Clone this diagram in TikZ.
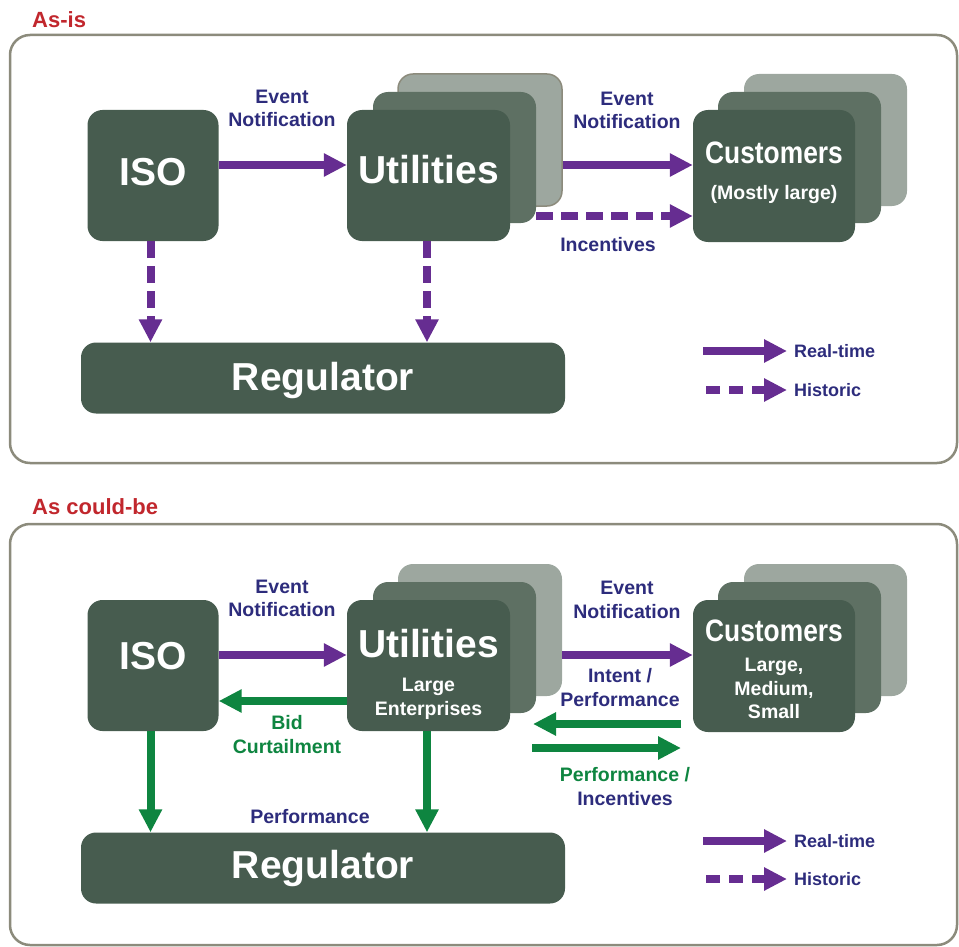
\documentclass[tikz,border=0pt]{standalone}
\usepackage{fontspec}
\setmainfont{Liberation Sans}
\newfontfamily\narrowsans{Liberation Sans}[FakeStretch=0.85]
\usetikzlibrary{arrows.meta}

\definecolor{boxfront}{HTML}{475C4F}
\definecolor{boxmid}{HTML}{5E7063}
\definecolor{boxback}{HTML}{9DA79F}
\definecolor{framegray}{HTML}{8C8B7C}
\definecolor{navy}{HTML}{2D2C7C}
\definecolor{arrowpurple}{HTML}{662D91}
\definecolor{arrowgreen}{HTML}{0E8540}
\definecolor{titlered}{HTML}{C1272D}

\newcommand\bigfont{\bfseries\fontsize{39}{44}\selectfont}
\newcommand\custfont{\narrowsans\bfseries\fontsize{31}{34}\selectfont}
\newcommand\smallfont{\bfseries\fontsize{19.5}{23.5}\selectfont}

\tikzset{
  panel/.style={draw=framegray, line width=2.5pt, rounded corners=20pt},
  paneltitle/.style={text=titlered, anchor=west, inner sep=0pt,
    font=\bfseries\fontsize{22}{26}\selectfont},
  box/.style={rectangle, rounded corners=15pt, fill=boxfront, text=white,
    inner sep=0pt, align=center},
  midbox/.style={box, fill=boxmid},
  backbox/.style={box, fill=boxback},
  bigtext/.style={font=\bigfont},
  multitext/.style={font=\smallfont},
  lbl/.style={text=navy, align=center, inner sep=0pt, font=\smallfont},
  glbl/.style={lbl, text=arrowgreen},
  legendlbl/.style={text=navy, anchor=west, inner sep=0pt,
    font=\bfseries\fontsize{18}{22}\selectfont},
  rt/.style={draw=arrowpurple, line width=8pt,
    -{Triangle[length=23pt,width=22pt]}},
  hist/.style={rt, dash pattern=on 17pt off 8pt},
  grn/.style={draw=arrowgreen, line width=8pt,
    -{Triangle[length=23pt,width=22pt]}},
}

\begin{document}
\begin{tikzpicture}[x=1pt,y=-1pt]
\useasboundingbox (0,0) rectangle (959,947);

% ---------------- As-is ----------------
\draw[panel] (10,35) rectangle (957,463);
\node[paneltitle] (t1) at (32,20) {As-is};

\node[box, bigtext, text depth=7pt, minimum width=131pt, minimum height=131pt] (iso1) at (153,175.5) {ISO};

\node[backbox, draw=framegray, line width=1.5pt, minimum width=164pt, minimum height=132pt] (utilb1) at (480,140) {};
\node[midbox, minimum width=163pt, minimum height=131pt] (utilm1) at (454.5,157.5) {};
\node[box, bigtext, text depth=12pt, minimum width=163pt, minimum height=131pt] (util1) at (428.5,175.5) {Utilities};

\node[backbox, minimum width=163pt, minimum height=132pt] (custb1) at (825.5,140) {};
\node[midbox, minimum width=163pt, minimum height=131pt] (custm1) at (799.5,157.5) {};
\node[box, multitext, text depth=10pt, minimum width=162pt, minimum height=132pt] (cust1) at (774,176)
  {{\custfont Customers}\\[12.5pt](Mostly large)};

\node[box, bigtext, text depth=4pt, minimum width=484pt, minimum height=71pt] (reg1) at (323,378) {Regulator};

\draw[rt] ([yshift=10.5pt]iso1.east) -- ([yshift=10.5pt]util1.west);
\node[lbl] (en1) at (282,108.5) {Event\\Notification};

\draw[rt] ([yshift=-25pt]utilb1.east) -- ([yshift=-25pt]utilb1.east -| cust1.west);
\node[lbl] (en2) at (627,110.5) {Event\\Notification};

\draw[hist] ([yshift=-58.5pt]utilm1.east) -- ([yshift=-58.5pt]utilm1.east -| cust1.west);
\node[lbl] (inc1) at (608,245) {Incentives};

\draw[hist] ([xshift=-2.5pt]iso1.south) -- ([xshift=-2.5pt]iso1.south |- reg1.north);
\draw[hist] ([xshift=-1.5pt]util1.south) -- ([xshift=-1.5pt]util1.south |- reg1.north);

\coordinate (lga1) at (703,351);
\coordinate (lgb1) at (787,351);
\draw[rt] (lga1) -- (lgb1);
\node[legendlbl] (lrt1) at (794,351) {Real-time};
\coordinate (lgc1) at (706,390);
\coordinate (lgd1) at (787,390);
\draw[hist, dash pattern=on 14pt off 9pt] (lgc1) -- (lgd1);
\node[legendlbl] (lhi1) at (794,390) {Historic};

% ---------------- As could-be ----------------
\draw[panel] (10,524) rectangle (957,945);
\node[paneltitle] (t2) at (32,507) {As could-be};

\node[box, bigtext, text depth=20pt, minimum width=131pt, minimum height=131pt] (iso2) at (153,665.5) {ISO};

\node[backbox, minimum width=164pt, minimum height=132pt] (utilb2) at (480,630) {};
\node[midbox, minimum width=163pt, minimum height=131pt] (utilm2) at (454.5,647.5) {};
\node[box, multitext, minimum width=163pt, minimum height=131pt] (util2) at (428.5,665.5)
  {{\bigfont\rule{0pt}{46pt}Utilities}\\[10.5pt]Large\\Enterprises};

\node[backbox, minimum width=163pt, minimum height=132pt] (custb2) at (825.5,630) {};
\node[midbox, minimum width=163pt, minimum height=131pt] (custm2) at (799.5,647.5) {};
\node[box, multitext, minimum width=162pt, minimum height=132pt] (cust2) at (774,666)
  {{\custfont\rule{0pt}{29pt}Customers}\\[6.5pt]Large,\\Medium,\\Small};

\node[box, bigtext, minimum width=484pt, minimum height=71pt] (reg2) at (323,868) {Regulator};

\draw[rt] ([yshift=10.5pt]iso2.east) -- ([yshift=10.5pt]util2.west);
\node[lbl] (en3) at (282,598.5) {Event\\Notification};

\draw[grn] ([yshift=-35.5pt]util2.west) -- ([yshift=-35.5pt]iso2.east);
\node[glbl] (bid) at (287,734.5) {Bid\\Curtailment};

\draw[rt] ([yshift=-25pt]utilb2.east) -- ([yshift=-25pt]utilb2.east -| cust2.west);
\node[lbl] (en4) at (627,600) {Event\\Notification};
\node[lbl] (intent) at (620,687.5) {Intent /\\Performance};

\coordinate (ga) at (681,724);
\coordinate (gb) at (533,724);
\draw[grn] (ga) -- (gb);
\coordinate (gc) at (532,748);
\coordinate (gd) at (681,748);
\draw[grn] (gc) -- (gd);
\node[glbl] (perfinc) at (625,775) {Performance /};
\node[lbl] (incent) at (625,799) {Incentives};

\draw[grn] ([xshift=-2.5pt]iso2.south) -- ([xshift=-2.5pt]iso2.south |- reg2.north);
\draw[grn] ([xshift=-1.5pt]util2.south) -- ([xshift=-1.5pt]util2.south |- reg2.north);
\node[lbl] (perf) at (310,817) {Performance};

\coordinate (lga2) at (703,841);
\coordinate (lgb2) at (787,841);
\draw[rt] (lga2) -- (lgb2);
\node[legendlbl] (lrt2) at (794,841) {Real-time};
\coordinate (lgc2) at (706,879);
\coordinate (lgd2) at (787,879);
\draw[hist, dash pattern=on 14pt off 9pt] (lgc2) -- (lgd2);
\node[legendlbl] (lhi2) at (794,879) {Historic};
\end{tikzpicture}
\end{document}
